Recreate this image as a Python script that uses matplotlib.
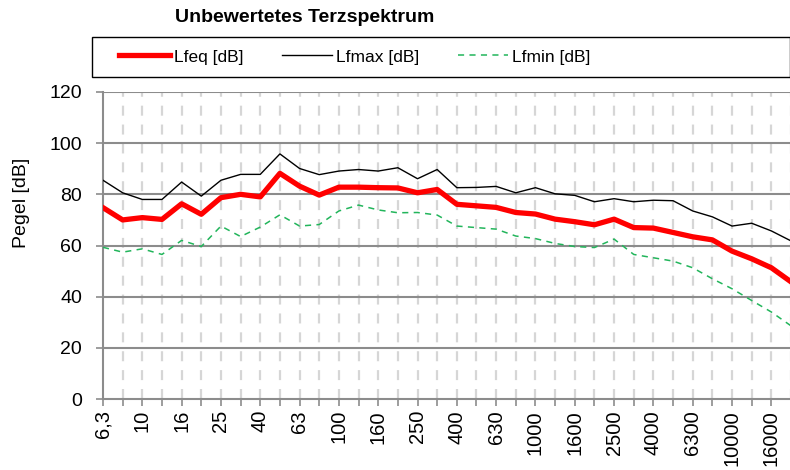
import matplotlib
matplotlib.use("Agg")
import matplotlib.pyplot as plt
from matplotlib.patches import Rectangle

plt.rcParams['font.family'] = ['Liberation Sans', 'DejaVu Sans']

bands = ["6,3", "8", "10", "12,5", "16", "20", "25", "31,5", "40", "50", "63", "80",
         "100", "125", "160", "200", "250", "315", "400", "500", "630", "800",
         "1000", "1250", "1600", "2000", "2500", "3150", "4000", "5000", "6300",
         "8000", "10000", "12500", "16000", "20000"]

lfeq = [74.8, 70.0, 70.9, 70.2, 76.3, 72.2, 78.7, 80.0, 79.0, 88.2, 83.2, 79.7,
        82.8, 82.8, 82.6, 82.5, 80.6, 81.9, 76.1, 75.5, 74.9, 72.9, 72.3, 70.3,
        69.3, 68.1, 70.3, 67.0, 66.8, 65.1, 63.4, 62.2, 57.8, 54.8, 51.3, 45.8]

lfmax = [85.5, 80.6, 78.0, 78.0, 84.8, 79.3, 85.5, 87.8, 87.8, 95.8, 90.1, 87.7,
         89.1, 89.7, 89.1, 90.4, 86.1, 89.7, 82.6, 82.7, 83.1, 80.6, 82.6, 80.2,
         79.6, 77.1, 78.3, 77.1, 77.7, 77.5, 73.5, 71.2, 67.6, 68.7, 65.7, 61.8]

lfmin = [59.3, 57.4, 58.7, 56.5, 62.0, 59.6, 67.6, 63.5, 67.2, 72.0, 67.6, 68.2,
         73.5, 75.8, 73.9, 72.8, 72.9, 71.9, 67.6, 67.0, 66.4, 63.7, 62.7, 60.8,
         59.6, 59.2, 62.5, 56.5, 55.2, 53.9, 51.3, 47.0, 43.1, 38.5, 34.0, 28.6]

yticks = [0, 20, 40, 60, 80, 100, 120]

fig = plt.figure(figsize=(7.9, 4.7), dpi=100)
ax = fig.add_axes([103/790, 71/470, 688/790, 307/470])

x = list(range(len(bands)))

# vertical dashed gridlines
for xi in x[1:]:
    ax.axvline(xi, color='#d6d6d6', lw=1.6, ls=(0, (4.5, 4)), zorder=0)
# horizontal gridlines
for yv in yticks[1:]:
    ax.axhline(yv, color='#8c8c8c', lw=1.5, zorder=1)

l1, = ax.plot(x, lfeq, color='#ff0000', lw=3.8, solid_joinstyle='round', zorder=4)
l2, = ax.plot(x, lfmax, color='black', lw=1.0, zorder=3)
l3, = ax.plot(x, lfmin, color='#22b55b', lw=1.1, ls=(0, (4, 3.5)), zorder=3)

ax.set_xlim(0, len(bands) - 1)
ax.set_ylim(0, 120)
ax.set_yticks(yticks)
ax.set_yticklabels([str(v) for v in yticks], fontsize=14)
ax.set_xticks(x)
ax.set_xticklabels([b if i % 2 == 0 else "" for i, b in enumerate(bands)],
                   rotation=90, fontsize=14.5)
ax.tick_params(axis='both', color='#8c8c8c', width=1.2, length=5, direction='out')
ax.tick_params(axis='x', pad=3)
ax.tick_params(axis='y', pad=10)

for s in ['top', 'right']:
    ax.spines[s].set_visible(False)
for s in ['left', 'bottom']:
    ax.spines[s].set_color('#8c8c8c')
    ax.spines[s].set_linewidth(1.5)

fig.text(22/790, 1 - 203/470, "Pegel [dB]", rotation=90, ha='center', va='center',
         fontsize=14)

fig.text(305/790, 1 - 18/470, "Unbewertetes Terzspektrum", ha='center', va='center',
         fontsize=14, fontweight='bold')

# legend frame
fig.patches.append(Rectangle((92/790, 1 - 77/470), (790 - 92)/790, 40/470,
                             transform=fig.transFigure, fill=False, ec='black', lw=1.0))
fig.legend([l1, l2, l3], ["Lfeq [dB]", "Lfmax [dB]", "Lfmin [dB]"],
           loc='center', bbox_to_anchor=(355/790, 1 - 57/470), ncol=3,
           frameon=False, fontsize=12.5, handlelength=2.9, handletextpad=0.25,
           columnspacing=2.2)

fig.savefig("out.png", dpi=100)
